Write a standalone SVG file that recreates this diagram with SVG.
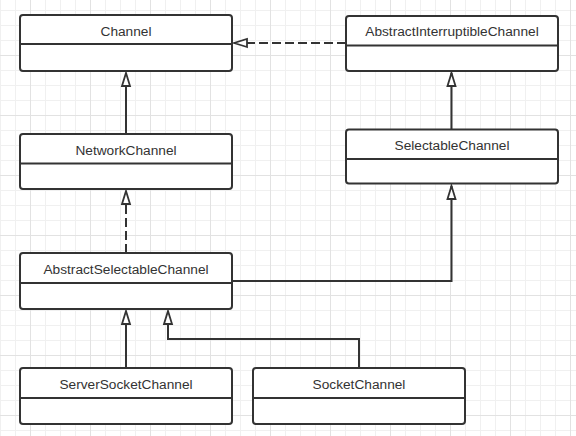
<svg xmlns="http://www.w3.org/2000/svg" width="576" height="436" viewBox="0 0 576 436">
<style>
.box{fill:#fff;stroke:#333;stroke-width:2}
.div{stroke:#333;stroke-width:2}
.lbl{font-family:"Liberation Sans",Arial,sans-serif;font-size:13.7px;fill:#333;text-anchor:middle}
.con{fill:none;stroke:#333;stroke-width:2}
.dash{stroke-dasharray:9 4}
</style>
<defs>
<pattern id="grid" patternUnits="userSpaceOnUse" x="30" y="55" width="60" height="60">
<path d="M15.5,0V60M30.5,0V60M45.5,0V60M0,15.5H60M0,30.5H60M0,45.5H60" stroke="#f0f0f0" stroke-width="1" fill="none"/>
<path d="M0.5,0V60M0,0.5H60" stroke="#e2e2e2" stroke-width="1" fill="none"/>
</pattern>
<marker id="tri" viewBox="-3 -7 18 14" markerWidth="18" markerHeight="14" refX="13" refY="0" orient="auto" markerUnits="userSpaceOnUse">
<path d="M0,-4 L13,0 L0,4 Z" fill="#fff" stroke="#333" stroke-width="1.8" stroke-linejoin="miter"/>
</marker>
</defs>
<rect width="576" height="436" fill="#fff"/>
<rect width="576" height="436" fill="url(#grid)"/>
<g id="connectors">
<path class="con dash" d="M346,43 H234" marker-end="url(#tri)"/>
<path class="con" d="M126,134 V73" marker-end="url(#tri)"/>
<path class="con dash" d="M126,253 V191" marker-end="url(#tri)"/>
<path class="con" d="M451.5,129.5 V73" marker-end="url(#tri)"/>
<path class="con" d="M232,281 H451.5 V186" marker-end="url(#tri)"/>
<path class="con" d="M126,368 V311" marker-end="url(#tri)"/>
<path class="con" d="M359,368 V339 H168 V311" marker-end="url(#tri)"/>
</g>
<g id="Channel">
<rect class="box" x="20" y="15" width="212" height="56" rx="3"/>
<line class="div" x1="20" y1="44" x2="232" y2="44"/>
<text class="lbl" x="126" y="35.5">Channel</text>
</g>
<g id="AbstractInterruptibleChannel">
<rect class="box" x="346" y="16" width="212" height="55" rx="3"/>
<line class="div" x1="346" y1="45.5" x2="558" y2="45.5"/>
<text class="lbl" x="452" y="36">AbstractInterruptibleChannel</text>
</g>
<g id="NetworkChannel">
<rect class="box" x="20" y="134" width="212" height="55" rx="3"/>
<line class="div" x1="20" y1="163.5" x2="232" y2="163.5"/>
<text class="lbl" x="126" y="154.5">NetworkChannel</text>
</g>
<g id="SelectableChannel">
<rect class="box" x="346" y="129.5" width="212" height="54" rx="3"/>
<line class="div" x1="346" y1="159" x2="558" y2="159"/>
<text class="lbl" x="452" y="150">SelectableChannel</text>
</g>
<g id="AbstractSelectableChannel">
<rect class="box" x="20" y="253" width="212" height="56" rx="3"/>
<line class="div" x1="20" y1="283" x2="232" y2="283"/>
<text class="lbl" x="126" y="273.5">AbstractSelectableChannel</text>
</g>
<g id="ServerSocketChannel">
<rect class="box" x="20" y="368" width="212" height="56" rx="3"/>
<line class="div" x1="20" y1="398" x2="232" y2="398"/>
<text class="lbl" x="126" y="388.5">ServerSocketChannel</text>
</g>
<g id="SocketChannel">
<rect class="box" x="253" y="368" width="212" height="56" rx="3"/>
<line class="div" x1="253" y1="398" x2="465" y2="398"/>
<text class="lbl" x="359" y="388.5">SocketChannel</text>
</g>
</svg>
